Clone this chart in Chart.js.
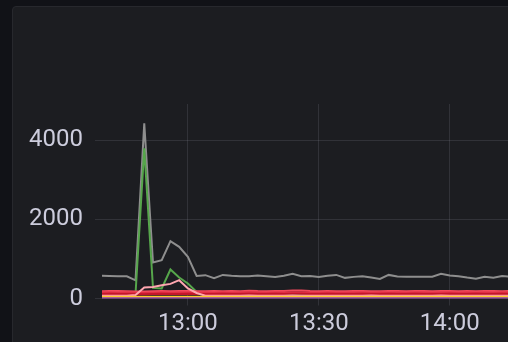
<!DOCTYPE html>
<html>
<head>
<meta charset="utf-8">
<script src="https://cdn.jsdelivr.net/npm/chart.js@4.4.1/dist/chart.umd.min.js"></script>
<style>
  html, body { margin: 0; padding: 0; width: 508px; height: 342px; overflow: hidden; background: #111217; }
  #panel { position: absolute; left: 12px; top: 6px; width: 540px; height: 380px; box-sizing: border-box;
           background: #1c1d21; border: 1px solid #27282d; border-radius: 4px; }
  #wrap { position: absolute; left: 0; top: 0; width: 508px; height: 342px; }
</style>
</head>
<body>
<div id="panel"></div>
<div id="wrap"><canvas id="chart" width="508" height="342"></canvas></div>
<script>
// sample times (every 2 minutes)
const times = ['12:40','12:42','12:44','12:46','12:48','12:50','12:52','12:54','12:56','12:58',
  '13:00','13:02','13:04','13:06','13:08','13:10','13:12','13:14','13:16','13:18',
  '13:20','13:22','13:24','13:26','13:28','13:30','13:32','13:34','13:36','13:38',
  '13:40','13:42','13:44','13:46','13:48','13:50','13:52','13:54','13:56','13:58',
  '14:00','14:02','14:04','14:06','14:08','14:10','14:12','14:14'];

const grayValues = [575,572,565,560,460,4430,911,970,1450,1306,
  1053,572,590,514,597,575,560,565,582,565,
  547,575,623,565,570,547,575,597,522,547,
  565,530,496,597,555,550,550,550,550,623,
  580,565,530,500,550,525,570,550];
const greenValues = [80,78,82,80,120,3800,268,253,733,530,
  380,167,82,80,78,82,80,84,80,78,
  82,80,78,82,80,84,80,78,82,80,
  78,82,80,84,80,78,82,80,78,82,
  80,84,80,78,82,80,78,82];
const lightPinkValues = [70,72,68,70,90,278,293,337,370,463,
  253,140,72,70,68,72,70,75,70,68,
  72,70,74,72,70,68,72,70,68,72,
  70,74,70,68,72,70,68,72,70,74,
  72,70,68,72,70,68,72,70];
const red1Values = [185,188,190,186,180,175,182,190,185,188,
  192,186,184,190,186,188,185,195,188,186,
  190,192,205,200,188,185,190,186,184,188,
  190,186,185,188,192,186,190,188,185,187,
  190,186,188,185,190,187,186,189];
const red2Values = [150,152,148,150,145,140,148,150,146,150,
  152,148,150,146,150,148,152,155,150,148,
  150,152,160,158,150,148,150,146,148,150,
  152,148,150,146,150,148,152,150,148,150,
  152,148,150,146,150,148,152,150];
const red3Values = [115,118,112,116,110,105,112,118,114,116,
  120,114,116,112,118,114,116,120,114,116,
  118,114,122,120,116,114,118,112,116,114,
  118,116,112,118,114,116,118,114,116,112,
  118,116,114,118,116,112,118,116];
const orangeValues = [45,46,44,45,44,46,45,47,45,44,
  46,45,44,46,45,47,45,44,46,45,
  44,46,45,47,45,44,46,45,44,46,
  45,47,45,44,46,45,44,46,45,47,
  45,44,46,45,44,46,45,47];
const yellowValues = [30,31,29,30,30,31,30,29,31,30,
  30,29,31,30,30,31,29,30,31,30,
  29,30,31,30,30,29,31,30,30,31,
  29,30,31,30,30,29,31,30,30,31,
  29,30,31,30,30,29,31,30];
const purpleValues = [6,6,5,6,6,5,6,6,5,6,
  6,5,6,6,5,6,6,5,6,6,
  5,6,6,5,6,6,5,6,6,5,
  6,6,5,6,6,5,6,6,5,6,
  6,5,6,6,5,6,6,5];

const xTickLabels = ['13:00', '13:30', '14:00'];
const yTickValues = [0, 2000, 4000];
const xRange = ['12:40:19', '14:13:21'];
const yRange = [0, 4920];

function toMinutes(t) {
  const p = t.split(':').map(Number);
  return p[0] * 60 + p[1] + (p[2] || 0) / 60;
}
function fmt(m) {
  const h = Math.floor(m / 60), mm = Math.round(m % 60);
  return h + ':' + String(mm).padStart(2, '0');
}
function pts(values) {
  return values.map((v, i) => ({ x: toMinutes(times[i]), y: v }));
}

// first in list is drawn on top
const series = [
  { data: purpleValues, color: '#8F3BB8' },
  { data: yellowValues, color: '#FADE2A' },
  { data: orangeValues, color: '#FF9830' },
  { data: lightPinkValues, color: '#FFA6B0' },
  { data: red3Values, color: '#C4162A' },
  { data: red2Values, color: '#E02F44' },
  { data: red1Values, color: '#F2495C' },
  { data: greenValues, color: '#56A64B' },
  { data: grayValues, color: '#8e8e8e' }
];

const textColor = '#ccccdc';
const gridColor = 'rgba(204,204,220,0.12)';
const tickFont = { family: 'Roboto', size: 24 };

new Chart(document.getElementById('chart').getContext('2d'), {
  type: 'line',
  data: {
    datasets: series.map(s => ({
      data: pts(s.data),
      borderColor: s.color,
      borderWidth: 2,
      pointRadius: 0,
      tension: 0,
      fill: false
    }))
  },
  options: {
    responsive: false,
    animation: false,
    layout: { padding: { top: 104, left: 0, right: 0, bottom: 0 } },
    plugins: { legend: { display: false }, tooltip: { enabled: false } },
    scales: {
      x: {
        type: 'linear',
        min: toMinutes(xRange[0]),
        max: toMinutes(xRange[1]),
        afterBuildTicks: s => { s.ticks = xTickLabels.map(t => ({ value: toMinutes(t) })); },
        afterFit: s => { s.height = 43.5; },
        grid: { color: gridColor, tickLength: 7 },
        border: { display: false },
        ticks: { color: textColor, font: tickFont, padding: 4, maxRotation: 0, callback: v => fmt(v) }
      },
      y: {
        min: yRange[0],
        max: yRange[1],
        afterBuildTicks: s => { s.ticks = yTickValues.map(v => ({ value: v })); },
        afterFit: s => { s.width = 102; },
        grid: { color: gridColor, tickLength: 7 },
        border: { display: false },
        ticks: { color: textColor, font: tickFont, padding: 12, callback: v => String(v) }
      }
    }
  }
});
</script>
</body>
</html>
